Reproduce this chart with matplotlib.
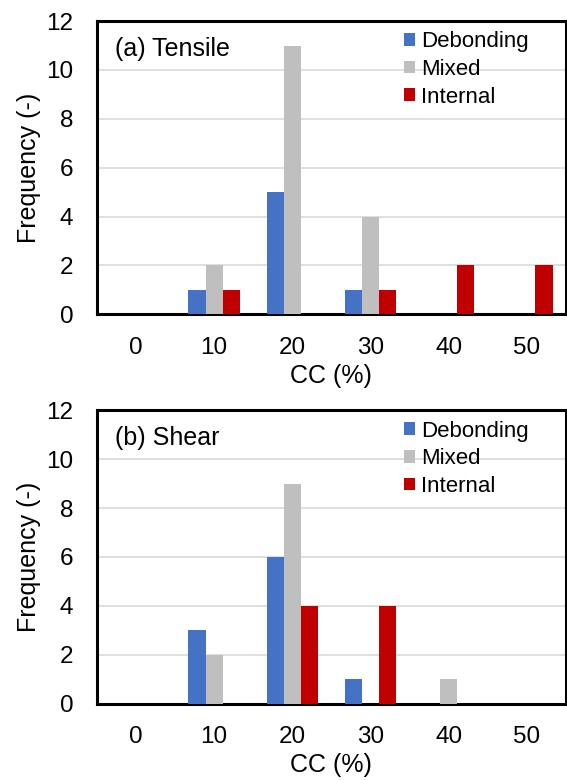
import numpy as np
import matplotlib.pyplot as plt

plt.rcParams['font.family'] = ['Liberation Sans', 'DejaVu Sans']

cc = ['0', '10', '20', '30', '40', '50']
series = ['Debonding', 'Mixed', 'Internal']
colors = ['#4472C4', '#BFBFBF', '#C00000']

# (a) tensile
tensile = {
    'Debonding': [0, 1, 5, 1, 0, 0],
    'Mixed': [0, 2, 11, 4, 0, 0],
    'Internal': [0, 1, 0, 1, 2, 2],
}
# (b) shear
shear = {
    'Debonding': [0, 3, 6, 1, 0, 0],
    'Mixed': [0, 2, 9, 0, 1, 0],
    'Internal': [0, 0, 4, 4, 0, 0],
}

fig = plt.figure(figsize=(5.67, 7.8), dpi=100)
ax1 = fig.add_axes([0.171, 0.597, 0.827, 0.376])
ax2 = fig.add_axes([0.171, 0.098, 0.827, 0.376])

x = np.arange(len(cc))
w = 0.22

for ax, data, title in [(ax1, tensile, '(a) Tensile'), (ax2, shear, '(b) Shear')]:
    for i, s in enumerate(series):
        ax.bar(x + (i - 1) * w, data[s], width=w, color=colors[i], label=s, zorder=3)
    ax.set_xlim(-0.5, 5.5)
    ax.set_ylim(0, 12)
    ax.set_yticks(range(0, 13, 2))
    ax.set_xticks(x)
    ax.set_xticklabels(cc)
    ax.yaxis.grid(True, color='#D9D9D9', linewidth=1.2, zorder=0)
    ax.tick_params(length=0, labelsize=17.5)
    ax.tick_params(axis='y', pad=17)
    ax.tick_params(axis='x', pad=16)
    for sp in ax.spines.values():
        sp.set_linewidth(2.2)
        sp.set_color('black')
    ax.set_xlabel('CC (%)', fontsize=18, labelpad=4)
    ax.set_ylabel('Frequency (-)', fontsize=18, labelpad=4)
    ax.text(0.038, 0.904, title, transform=ax.transAxes, fontsize=18, va='center')
    ax.legend(loc='upper left', bbox_to_anchor=(0.655, 0.965), frameon=False, fontsize=16,
              handlelength=0.5, handleheight=0.5, handletextpad=0.25, labelspacing=0.3,
              borderaxespad=0, borderpad=0)

fig.savefig('out.png', dpi=100)
